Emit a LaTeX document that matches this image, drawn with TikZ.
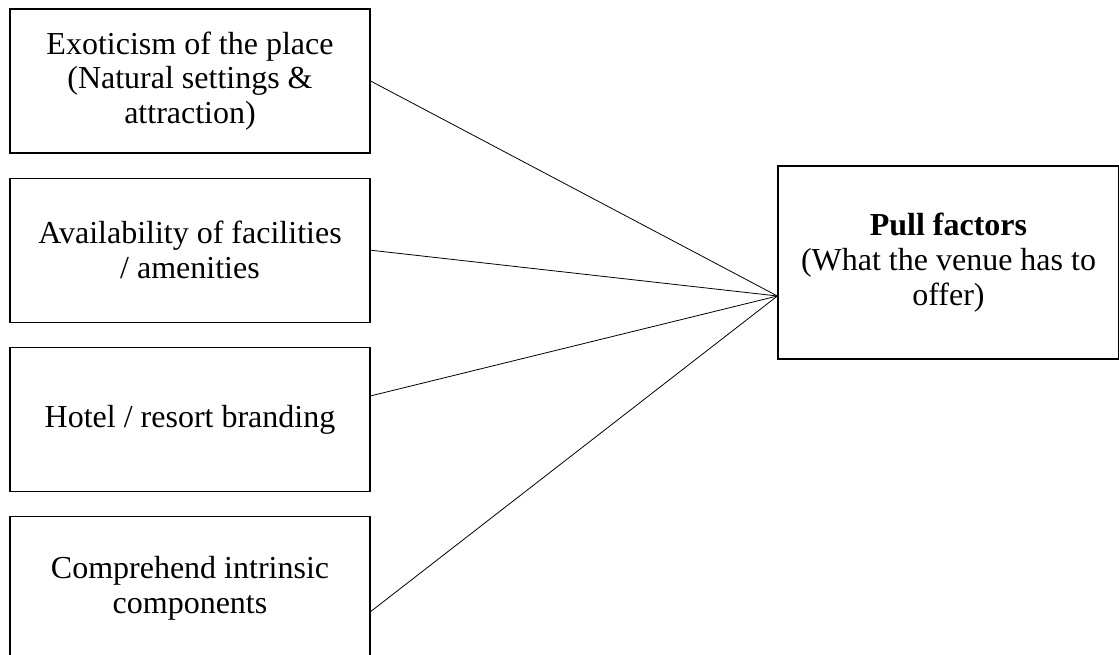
\documentclass[tikz,border=0pt]{standalone}
\usepackage{fontspec}
\setmainfont{Liberation Serif}
\usetikzlibrary{positioning, calc}

\begin{document}
\begin{tikzpicture}[
  x=0.75pt, y=-0.75pt,
  every node/.style={font=\fontsize{24}{26}\selectfont, align=center},
  factor/.style={draw, line width=0.9pt, minimum width=270pt, minimum height=108pt, inner sep=0pt},
  pull/.style={draw, line width=0.9pt, minimum width=255.75pt, minimum height=144.75pt, inner sep=0pt},
  link/.style={line width=0.6pt},
  node distance=18pt,
]
\useasboundingbox (0,0) rectangle (1119,655);

% left column of factors
\node[factor] (exotic) at (190,81) {Exoticism of the place\\(Natural settings \&\\attraction)};
\node[factor, below=of exotic] (facil) {Availability of facilities\\/ amenities};
\node[factor, below=of facil] (brand) {Hotel / resort branding};
\node[factor, below=of brand] (intrin) {Comprehend intrinsic\\components};

% pull factors box
\node[pull] (pf) at (948.5,262.5) {\textbf{Pull factors}\\(What the venue has to\\offer)};
\coordinate (hub) at ($(pf.west)+(0,33.5)$);

\draw[link] (exotic.east) -- (hub);
\draw[link] (facil.east) -- (hub);
\draw[link] ($(brand.east)+(0,-23.5)$) -- (hub);
\draw[link] ($(intrin.east)+(0,23)$) -- (hub);
\end{tikzpicture}
\end{document}
